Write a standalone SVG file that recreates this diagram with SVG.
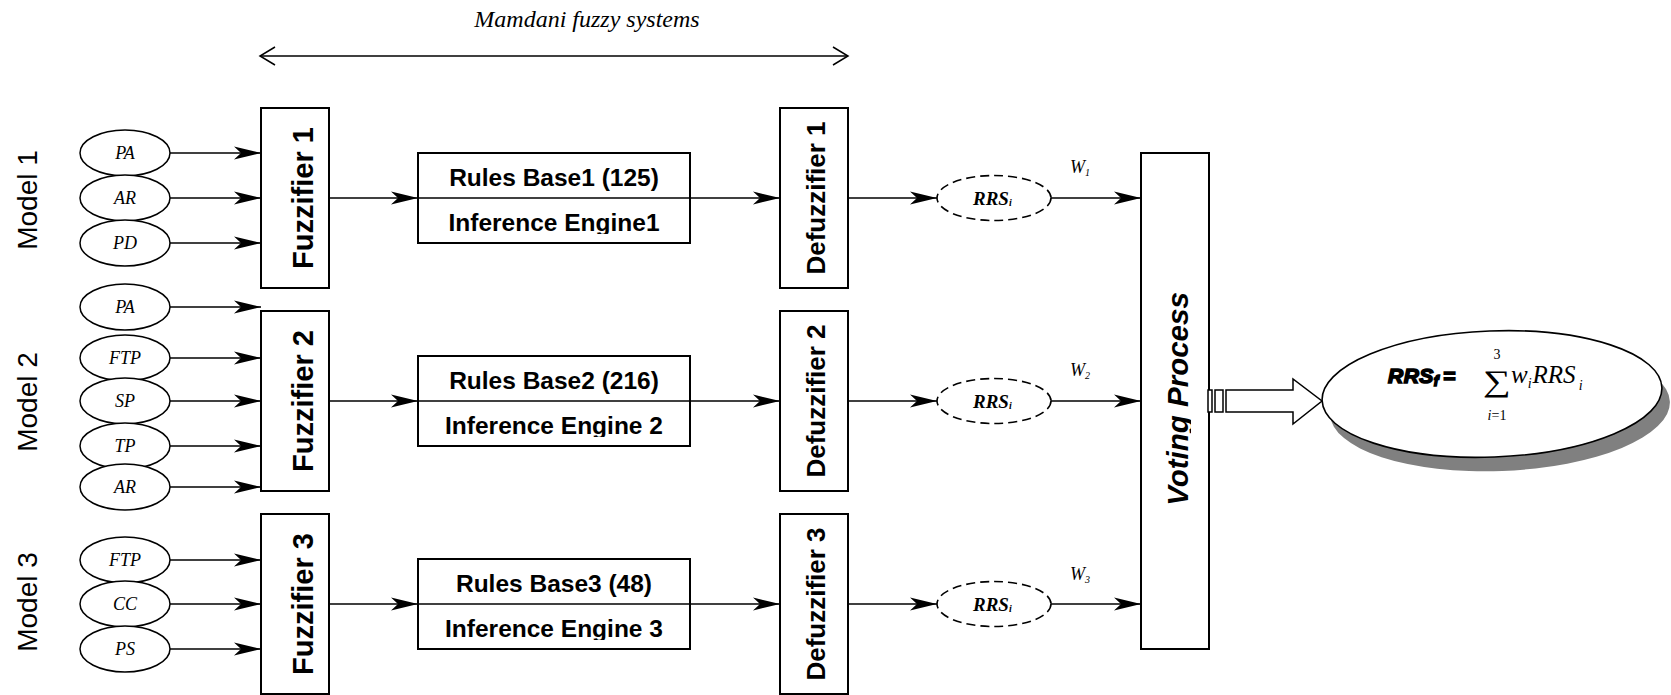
<svg xmlns="http://www.w3.org/2000/svg" width="1671" height="695" viewBox="0 0 1671 695">
<style>
.box{fill:#fff;stroke:#000;stroke-width:2}
.in{fill:#fff;stroke:#000;stroke-width:1.5}
.rrs{fill:#fff;stroke:#000;stroke-width:1.6;stroke-dasharray:9 5}
.ln{fill:none;stroke:#000;stroke-width:1.5}
.arr{fill:none;stroke:#000;stroke-width:1.5;marker-end:url(#ah)}
.lab{font-family:"Liberation Serif","Times New Roman",serif;font-style:italic;font-size:18px;text-anchor:middle}
.model{font-family:"Liberation Sans",Arial,sans-serif;font-size:28px;text-anchor:middle}
.fz{font-family:"Liberation Sans",Arial,sans-serif;font-weight:bold;font-size:29px;text-anchor:middle}
.dfz{font-family:"Liberation Sans",Arial,sans-serif;font-weight:bold;font-size:26px;text-anchor:middle}
.rb{font-family:"Liberation Sans",Arial,sans-serif;font-weight:bold;font-size:24.5px;text-anchor:middle}
.rrst{font-family:"Liberation Serif","Times New Roman",serif;font-style:italic;font-weight:bold;font-size:19px}
.w{font-family:"Liberation Serif","Times New Roman",serif;font-style:italic;font-size:18px}
.math{font-family:"Liberation Serif","Times New Roman",serif}
</style>
<defs>
<marker id="ah" markerUnits="userSpaceOnUse" viewBox="-28 -7 29 14" refX="0" refY="0" markerWidth="29" markerHeight="14" orient="auto" overflow="visible">
<path d="M0,0 L-27,-6.5 L-20,0 L-27,6.5 Z" fill="#000"/>
</marker>
<marker id="oa" markerUnits="userSpaceOnUse" viewBox="-16 -10 17 20" refX="0" refY="0" markerWidth="17" markerHeight="20" orient="auto-start-reverse" overflow="visible">
<path d="M-15,-9 L0,0 L-15,9" fill="none" stroke="#000" stroke-width="1.5"/>
</marker>
<clipPath id="c1"><rect x="418" y="198" width="272" height="36"/></clipPath>
<clipPath id="c2"><rect x="418" y="401" width="272" height="36"/></clipPath>
<clipPath id="c3"><rect x="418" y="604" width="272" height="36"/></clipPath>
<clipPath id="cv"><rect x="1141" y="153" width="50" height="496"/></clipPath>
</defs>

<g id="title">
<text x="587" y="27" class="math" font-style="italic" font-size="24" text-anchor="middle">Mamdani fuzzy systems</text>
<line x1="260" y1="56" x2="848" y2="56" class="ln" marker-start="url(#oa)" marker-end="url(#oa)"/>
</g>

<g id="model-labels">
<text class="model" transform="translate(37,200) rotate(-90)">Model 1</text>
<text class="model" transform="translate(37,402) rotate(-90)">Model 2</text>
<text class="model" transform="translate(37,602) rotate(-90)">Model 3</text>
</g>

<g id="connectors">
<line x1="170" y1="153" x2="261" y2="153" class="arr"/>
<line x1="170" y1="198" x2="261" y2="198" class="arr"/>
<line x1="170" y1="243" x2="261" y2="243" class="arr"/>
<line x1="170" y1="307" x2="261" y2="307" class="arr"/>
<line x1="170" y1="358" x2="261" y2="358" class="arr"/>
<line x1="170" y1="401" x2="261" y2="401" class="arr"/>
<line x1="170" y1="446" x2="261" y2="446" class="arr"/>
<line x1="170" y1="487" x2="261" y2="487" class="arr"/>
<line x1="170" y1="560" x2="261" y2="560" class="arr"/>
<line x1="170" y1="604" x2="261" y2="604" class="arr"/>
<line x1="170" y1="649" x2="261" y2="649" class="arr"/>
<line x1="329" y1="198" x2="418" y2="198" class="arr"/>
<line x1="329" y1="401" x2="418" y2="401" class="arr"/>
<line x1="329" y1="604" x2="418" y2="604" class="arr"/>
<line x1="690" y1="198" x2="780" y2="198" class="arr"/>
<line x1="690" y1="401" x2="780" y2="401" class="arr"/>
<line x1="690" y1="604" x2="780" y2="604" class="arr"/>
<line x1="848" y1="198" x2="937" y2="198" class="arr"/>
<line x1="848" y1="401" x2="937" y2="401" class="arr"/>
<line x1="848" y1="604" x2="937" y2="604" class="arr"/>
<line x1="1051" y1="198" x2="1141" y2="198" class="arr"/>
<line x1="1051" y1="401" x2="1141" y2="401" class="arr"/>
<line x1="1051" y1="604" x2="1141" y2="604" class="arr"/>
</g>

<g id="inputs-model1">
<ellipse cx="125" cy="153" rx="45" ry="23" class="in"/><text x="125" y="159" class="lab">PA</text>
<ellipse cx="125" cy="198" rx="45" ry="23" class="in"/><text x="125" y="204" class="lab">AR</text>
<ellipse cx="125" cy="243" rx="45" ry="23" class="in"/><text x="125" y="249" class="lab">PD</text>
</g>
<g id="inputs-model2">
<ellipse cx="125" cy="307" rx="45" ry="23" class="in"/><text x="125" y="313" class="lab">PA</text>
<ellipse cx="125" cy="358" rx="45" ry="23" class="in"/><text x="125" y="364" class="lab">FTP</text>
<ellipse cx="125" cy="401" rx="45" ry="23" class="in"/><text x="125" y="407" class="lab">SP</text>
<ellipse cx="125" cy="446" rx="45" ry="23" class="in"/><text x="125" y="452" class="lab">TP</text>
<ellipse cx="125" cy="487" rx="45" ry="23" class="in"/><text x="125" y="493" class="lab">AR</text>
</g>
<g id="inputs-model3">
<ellipse cx="125" cy="560" rx="45" ry="23" class="in"/><text x="125" y="566" class="lab">FTP</text>
<ellipse cx="125" cy="604" rx="45" ry="23" class="in"/><text x="125" y="610" class="lab">CC</text>
<ellipse cx="125" cy="649" rx="45" ry="23" class="in"/><text x="125" y="655" class="lab">PS</text>
</g>

<g id="fuzzifier1"><rect x="261" y="108" width="68" height="180" class="box"/><text class="fz" transform="translate(313,198) rotate(-90)">Fuzzifier 1</text></g>
<g id="fuzzifier2"><rect x="261" y="311" width="68" height="180" class="box"/><text class="fz" transform="translate(313,401) rotate(-90)">Fuzzifier 2</text></g>
<g id="fuzzifier3"><rect x="261" y="514" width="68" height="180" class="box"/><text class="fz" transform="translate(313,604) rotate(-90)">Fuzzifier 3</text></g>

<g id="rules1"><rect x="418" y="153" width="272" height="90" class="box"/><line x1="418" y1="198" x2="690" y2="198" class="ln"/>
<text x="554" y="186" class="rb">Rules Base1 (125)</text><text x="554" y="231" class="rb" clip-path="url(#c1)">Inference Engine1</text></g>
<g id="rules2"><rect x="418" y="356" width="272" height="90" class="box"/><line x1="418" y1="401" x2="690" y2="401" class="ln"/>
<text x="554" y="389" class="rb">Rules Base2 (216)</text><text x="554" y="434" class="rb" clip-path="url(#c2)">Inference Engine 2</text></g>
<g id="rules3"><rect x="418" y="559" width="272" height="90" class="box"/><line x1="418" y1="604" x2="690" y2="604" class="ln"/>
<text x="554" y="592" class="rb">Rules Base3 (48)</text><text x="554" y="637" class="rb" clip-path="url(#c3)">Inference Engine 3</text></g>

<g id="defuzzifier1"><rect x="780" y="108" width="68" height="180" class="box"/><text class="dfz" transform="translate(825,198) rotate(-90)">Defuzzifier 1</text></g>
<g id="defuzzifier2"><rect x="780" y="311" width="68" height="180" class="box"/><text class="dfz" transform="translate(825,401) rotate(-90)">Defuzzifier 2</text></g>
<g id="defuzzifier3"><rect x="780" y="514" width="68" height="180" class="box"/><text class="dfz" transform="translate(825,604) rotate(-90)">Defuzzifier 3</text></g>

<g id="rrs1"><ellipse cx="994" cy="198" rx="57" ry="22.5" class="rrs"/><text x="973" y="205" class="rrst">RRS<tspan font-size="10" dy="1">i</tspan></text></g>
<g id="rrs2"><ellipse cx="994" cy="401" rx="57" ry="22.5" class="rrs"/><text x="973" y="408" class="rrst">RRS<tspan font-size="10" dy="1">i</tspan></text></g>
<g id="rrs3"><ellipse cx="994" cy="604" rx="57" ry="22.5" class="rrs"/><text x="973" y="611" class="rrst">RRS<tspan font-size="10" dy="1">i</tspan></text></g>

<g id="weights">
<text x="1070" y="173" class="w">W<tspan font-size="10" dy="3">1</tspan></text>
<text x="1070" y="376" class="w">W<tspan font-size="10" dy="3">2</tspan></text>
<text x="1070" y="580" class="w">W<tspan font-size="10" dy="3">3</tspan></text>
</g>

<g id="voting"><rect x="1141" y="153" width="68" height="496" class="box"/>
<g clip-path="url(#cv)"><text transform="translate(1188,399) rotate(-90)" font-family="Liberation Sans, Arial, sans-serif" font-weight="bold" font-style="italic" font-size="29.5" text-anchor="middle">Voting Process</text></g></g>

<g id="output-arrow">
<rect x="1208" y="390" width="4" height="22" class="in"/>
<rect x="1215" y="390" width="8" height="22" class="in"/>
<path d="M1226,390 H1293 V379 L1322,401 L1293,424 V412 H1226 Z" class="in"/>
</g>

<g id="result">
<ellipse cx="1500" cy="408" rx="170" ry="63" fill="#808080" transform="rotate(-2.2 1500 408)"/>
<ellipse cx="1492" cy="394" rx="170" ry="63" fill="#fff" stroke="#000" stroke-width="1.6" transform="rotate(-2.2 1492 394)"/>
<text x="1388" y="383" font-family="Liberation Sans, Arial, sans-serif" font-weight="bold" font-style="italic" font-size="21" stroke="#000" stroke-width="1.6" letter-spacing="0.5">RRS<tspan font-size="14" dy="3">f</tspan><tspan dy="-3" dx="4">=</tspan></text>
<text transform="translate(1497,391) scale(1.3,1)" class="math" font-size="30" text-anchor="middle">∑</text>
<text x="1497" y="359" class="math" font-size="14" text-anchor="middle">3</text>
<text x="1497" y="420" class="math" font-size="14" text-anchor="middle"><tspan font-style="italic">i</tspan>=1</text>
<text x="1511" y="383" class="math" font-style="italic" font-size="25">w<tspan font-size="14" dy="5">i</tspan><tspan dy="-5" dx="1">RRS</tspan><tspan font-size="14" dy="7" dx="3">i</tspan></text>
</g>
</svg>
